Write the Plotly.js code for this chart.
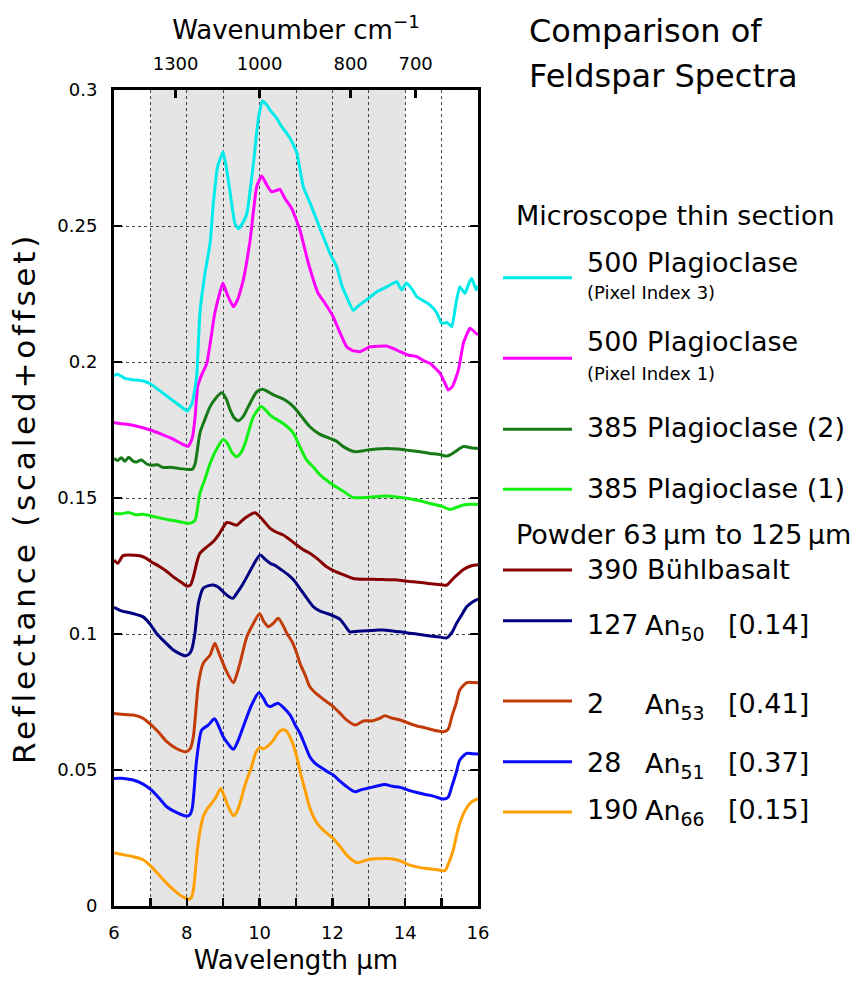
<!DOCTYPE html>
<html>
<head>
<meta charset="utf-8">
<script src="https://cdn.plot.ly/plotly-3.0.1.min.js"></script>
<style>
html,body{margin:0;padding:0;background:#fff;}
text.ytitle{letter-spacing:3.8px;}
</style>
</head>
<body>
<div id="chart" style="width:859px;height:984px;"></div>
<script>
// ---- Data ----
// 500 Plagioclase (Pixel Index 3)
const wlPlag500px3 = [6.0, 6.1, 6.3, 6.5, 6.8, 7.0, 7.3, 7.6, 7.85, 8.02, 8.15, 8.27, 8.36, 8.5, 8.64, 8.73, 8.85, 9.0, 9.14, 9.32, 9.42, 9.55, 9.65, 9.83, 9.97, 10.08, 10.2, 10.29, 10.45, 10.61, 10.84, 11.02, 11.2, 11.4, 11.57, 11.75, 11.93, 12.12, 12.25, 12.39, 12.57, 12.7, 12.85, 13.0, 13.22, 13.4, 13.58, 13.77, 13.9, 14.04, 14.2, 14.32, 14.5, 14.68, 14.87, 15.0, 15.15, 15.28, 15.4, 15.5, 15.64, 15.75, 15.83, 15.95, 16.0];
const rPlag500px3 = [0.195, 0.1955, 0.194, 0.1935, 0.193, 0.192, 0.189, 0.186, 0.1835, 0.182, 0.185, 0.1946, 0.218, 0.2326, 0.2437, 0.2585, 0.272, 0.2773, 0.267, 0.251, 0.249, 0.2515, 0.2546, 0.273, 0.290, 0.296, 0.2945, 0.2926, 0.290, 0.2865, 0.2822, 0.277, 0.2645, 0.258, 0.2522, 0.246, 0.240, 0.235, 0.2285, 0.224, 0.219, 0.2205, 0.222, 0.2235, 0.2258, 0.227, 0.2283, 0.2295, 0.2265, 0.229, 0.2265, 0.224, 0.2225, 0.221, 0.218, 0.2142, 0.2145, 0.213, 0.222, 0.2277, 0.2252, 0.229, 0.2307, 0.2265, 0.228];
// 500 Plagioclase (Pixel Index 1)
const wlPlag500px1 = [6.0, 6.3, 6.6, 7.0, 7.3, 7.6, 7.85, 8.04, 8.15, 8.22, 8.3, 8.4, 8.55, 8.77, 8.99, 9.12, 9.28, 9.4, 9.55, 9.74, 9.92, 10.06, 10.2, 10.33, 10.45, 10.56, 10.7, 10.88, 11.11, 11.34, 11.61, 11.8, 12.02, 12.2, 12.39, 12.55, 12.76, 13.03, 13.25, 13.49, 13.7, 13.86, 14.1, 14.32, 14.5, 14.68, 14.96, 15.1, 15.18, 15.3, 15.46, 15.6, 15.78, 15.95, 16.0];
const rPlag500px1 = [0.1777, 0.1772, 0.1765, 0.175, 0.1735, 0.1718, 0.170, 0.169, 0.172, 0.1787, 0.191, 0.195, 0.1995, 0.218, 0.229, 0.2245, 0.2203, 0.223, 0.230, 0.2449, 0.2645, 0.2684, 0.265, 0.2626, 0.263, 0.2635, 0.260, 0.2565, 0.2485, 0.2363, 0.2252, 0.2215, 0.2167, 0.211, 0.2056, 0.2042, 0.2038, 0.2056, 0.2058, 0.2059, 0.2048, 0.2038, 0.2025, 0.202, 0.2005, 0.1995, 0.1958, 0.192, 0.1897, 0.191, 0.197, 0.207, 0.2124, 0.2105, 0.210];
// 385 Plagioclase (2)
const wlPlag385b = [6.0, 6.1, 6.2, 6.3, 6.4, 6.5, 6.6, 6.75, 6.9, 7.03, 7.2, 7.35, 7.54, 7.8, 8.04, 8.15, 8.23, 8.36, 8.5, 8.64, 8.8, 8.96, 9.08, 9.19, 9.3, 9.42, 9.55, 9.69, 9.92, 10.08, 10.2, 10.38, 10.55, 10.7, 10.93, 11.15, 11.38, 11.65, 11.93, 12.1, 12.3, 12.62, 12.94, 13.2, 13.49, 13.8, 14.04, 14.4, 14.68, 14.95, 15.14, 15.25, 15.37, 15.6, 15.8, 16.0];
const rPlag385b = [0.1645, 0.1638, 0.1648, 0.1635, 0.165, 0.1638, 0.1632, 0.164, 0.1625, 0.162, 0.1622, 0.1612, 0.1613, 0.1608, 0.1605, 0.1606, 0.1627, 0.1738, 0.179, 0.1836, 0.1868, 0.1887, 0.1865, 0.1824, 0.1795, 0.1784, 0.180, 0.1836, 0.189, 0.190, 0.1893, 0.1879, 0.187, 0.186, 0.1836, 0.180, 0.1762, 0.1735, 0.1719, 0.171, 0.1689, 0.167, 0.1676, 0.168, 0.1682, 0.168, 0.1676, 0.167, 0.1664, 0.166, 0.1654, 0.166, 0.167, 0.1689, 0.1685, 0.1682];
// 385 Plagioclase (1)
const wlPlag385a = [6.0, 6.2, 6.4, 6.6, 6.8, 7.03, 7.3, 7.54, 7.8, 8.04, 8.15, 8.23, 8.36, 8.5, 8.64, 8.82, 9.0, 9.12, 9.23, 9.37, 9.48, 9.6, 9.83, 10.04, 10.15, 10.29, 10.45, 10.65, 10.93, 11.1, 11.29, 11.5, 11.66, 12.02, 12.3, 12.57, 12.94, 13.2, 13.49, 13.8, 14.04, 14.4, 14.68, 15.0, 15.23, 15.4, 15.6, 15.8, 16.0];
const rPlag385a = [0.1443, 0.1442, 0.1447, 0.1438, 0.144, 0.1434, 0.1425, 0.1419, 0.1413, 0.1407, 0.141, 0.1419, 0.1517, 0.157, 0.1627, 0.168, 0.1715, 0.170, 0.167, 0.1652, 0.1665, 0.170, 0.1799, 0.1836, 0.1825, 0.1805, 0.179, 0.1774, 0.1738, 0.169, 0.164, 0.161, 0.1585, 0.1548, 0.1525, 0.1502, 0.1502, 0.1505, 0.1507, 0.1503, 0.1499, 0.149, 0.148, 0.147, 0.1458, 0.1465, 0.1474, 0.1477, 0.1476];
// 390 Bühlbasalt
const wlBuehl390 = [6.0, 6.1, 6.25, 6.44, 6.8, 7.03, 7.26, 7.45, 7.63, 7.85, 8.0, 8.1, 8.18, 8.27, 8.36, 8.55, 8.73, 8.9, 9.1, 9.25, 9.37, 9.5, 9.65, 9.87, 10.01, 10.15, 10.29, 10.45, 10.65, 10.85, 11.02, 11.2, 11.38, 11.6, 11.84, 12.0, 12.21, 12.57, 12.9, 13.12, 13.4, 13.67, 13.95, 14.22, 14.5, 14.77, 15.0, 15.14, 15.32, 15.45, 15.6, 15.8, 15.95, 16.0];
const rBuehl390 = [0.1272, 0.126, 0.1288, 0.129, 0.1284, 0.1265, 0.1247, 0.123, 0.121, 0.119, 0.1176, 0.118, 0.121, 0.126, 0.1297, 0.132, 0.134, 0.137, 0.141, 0.1405, 0.140, 0.1415, 0.1431, 0.1446, 0.1431, 0.141, 0.1388, 0.1375, 0.1364, 0.1345, 0.1327, 0.131, 0.1297, 0.1275, 0.1247, 0.1235, 0.1223, 0.1204, 0.1201, 0.1201, 0.120, 0.1199, 0.1196, 0.1192, 0.1188, 0.1184, 0.1181, 0.118, 0.1204, 0.122, 0.1237, 0.125, 0.1254, 0.1255];
// 127 An50
const wlAn50 = [6.0, 6.2, 6.44, 6.8, 7.0, 7.17, 7.4, 7.63, 7.8, 7.95, 8.05, 8.13, 8.22, 8.32, 8.45, 8.6, 8.73, 8.87, 9.0, 9.13, 9.26, 9.4, 9.55, 9.7, 9.83, 10.01, 10.15, 10.29, 10.45, 10.61, 10.78, 10.93, 11.05, 11.2, 11.35, 11.48, 11.65, 11.84, 12.0, 12.21, 12.35, 12.48, 12.7, 12.94, 13.2, 13.4, 13.7, 14.04, 14.4, 14.68, 14.95, 15.14, 15.28, 15.41, 15.55, 15.69, 15.85, 16.0];
const rAn50 = [0.1098, 0.1085, 0.1078, 0.1063, 0.1035, 0.1002, 0.097, 0.0941, 0.0928, 0.092, 0.0925, 0.0941, 0.100, 0.1113, 0.1168, 0.1178, 0.118, 0.1172, 0.1155, 0.114, 0.1131, 0.1155, 0.1186, 0.1222, 0.1254, 0.129, 0.1275, 0.126, 0.125, 0.1235, 0.1218, 0.1199, 0.1178, 0.115, 0.1122, 0.110, 0.1085, 0.1076, 0.1068, 0.1054, 0.103, 0.1008, 0.101, 0.1012, 0.1014, 0.1015, 0.101, 0.1005, 0.0998, 0.0993, 0.0989, 0.0986, 0.1005, 0.1039, 0.107, 0.110, 0.1118, 0.1128];
// 2 An53
const wlAn53 = [6.0, 6.2, 6.53, 6.8, 7.03, 7.25, 7.45, 7.7, 7.98, 8.1, 8.18, 8.25, 8.32, 8.45, 8.64, 8.77, 8.88, 8.96, 9.1, 9.28, 9.37, 9.46, 9.65, 9.83, 10.0, 10.12, 10.24, 10.38, 10.51, 10.63, 10.75, 10.9, 11.02, 11.11, 11.25, 11.38, 11.52, 11.66, 11.85, 12.02, 12.2, 12.39, 12.62, 12.85, 13.12, 13.3, 13.44, 13.65, 13.86, 14.1, 14.32, 14.55, 14.77, 15.05, 15.18, 15.28, 15.4, 15.5, 15.69, 15.85, 16.0];
const rAn53 = [0.0708, 0.0705, 0.0702, 0.069, 0.0665, 0.0635, 0.0604, 0.058, 0.0567, 0.058, 0.0622, 0.072, 0.0818, 0.0892, 0.0923, 0.0966, 0.093, 0.0904, 0.086, 0.0821, 0.085, 0.0892, 0.099, 0.1039, 0.1074, 0.1045, 0.1027, 0.104, 0.1058, 0.1035, 0.1002, 0.097, 0.0929, 0.0892, 0.085, 0.0806, 0.0785, 0.077, 0.075, 0.0733, 0.071, 0.0684, 0.0665, 0.068, 0.0681, 0.069, 0.0699, 0.069, 0.0684, 0.0672, 0.0662, 0.0655, 0.0647, 0.0641, 0.065, 0.0696, 0.0745, 0.0794, 0.0821, 0.0822, 0.0821];
// 28 An51
const wlAn51 = [6.0, 6.2, 6.53, 6.8, 7.03, 7.25, 7.45, 7.7, 7.98, 8.08, 8.15, 8.27, 8.41, 8.59, 8.76, 8.88, 9.0, 9.14, 9.28, 9.4, 9.55, 9.78, 9.98, 10.1, 10.2, 10.29, 10.4, 10.51, 10.65, 10.84, 11.0, 11.11, 11.25, 11.38, 11.52, 11.66, 11.85, 12.02, 12.2, 12.39, 12.62, 12.8, 12.94, 13.2, 13.44, 13.65, 13.86, 14.1, 14.32, 14.55, 14.77, 15.05, 15.18, 15.28, 15.4, 15.5, 15.69, 15.85, 16.0];
const rAn51 = [0.0469, 0.047, 0.0463, 0.0448, 0.0426, 0.0395, 0.0365, 0.0345, 0.0331, 0.0335, 0.036, 0.0537, 0.0647, 0.0665, 0.0688, 0.066, 0.0622, 0.0595, 0.0576, 0.0605, 0.0659, 0.0739, 0.0784, 0.0765, 0.074, 0.0733, 0.074, 0.0745, 0.073, 0.0702, 0.066, 0.0635, 0.059, 0.0549, 0.0525, 0.0512, 0.0495, 0.0482, 0.046, 0.0439, 0.042, 0.0428, 0.0432, 0.044, 0.0447, 0.044, 0.0436, 0.0425, 0.0417, 0.041, 0.0404, 0.0393, 0.040, 0.0439, 0.049, 0.0537, 0.0561, 0.056, 0.0559];
// 190 An66
const wlAn66 = [6.0, 6.2, 6.53, 6.8, 7.03, 7.25, 7.45, 7.65, 7.81, 7.95, 8.04, 8.12, 8.18, 8.23, 8.29, 8.37, 8.45, 8.55, 8.68, 8.8, 8.93, 9.04, 9.14, 9.28, 9.37, 9.46, 9.6, 9.78, 9.9, 10.01, 10.1, 10.2, 10.38, 10.5, 10.61, 10.72, 10.84, 10.93, 11.02, 11.12, 11.25, 11.38, 11.48, 11.6, 11.75, 11.9, 12.02, 12.2, 12.39, 12.55, 12.67, 12.85, 13.03, 13.25, 13.49, 13.7, 13.86, 14.0, 14.13, 14.35, 14.59, 14.85, 15.09, 15.2, 15.32, 15.41, 15.5, 15.62, 15.74, 15.85, 16.0];
const rAn66 = [0.0195, 0.019, 0.0181, 0.017, 0.0144, 0.0112, 0.0083, 0.0058, 0.004, 0.003, 0.0025, 0.003, 0.0059, 0.012, 0.0206, 0.028, 0.0328, 0.0355, 0.0377, 0.040, 0.0432, 0.040, 0.0365, 0.0332, 0.0345, 0.0377, 0.0445, 0.0512, 0.0565, 0.0583, 0.0578, 0.0585, 0.061, 0.0635, 0.0647, 0.0645, 0.062, 0.059, 0.0549, 0.049, 0.0426, 0.036, 0.0328, 0.030, 0.0279, 0.0262, 0.0249, 0.022, 0.0188, 0.0168, 0.0159, 0.0165, 0.0172, 0.0174, 0.0175, 0.0172, 0.0166, 0.0158, 0.015, 0.0143, 0.0138, 0.0134, 0.013, 0.016, 0.0206, 0.026, 0.0304, 0.0345, 0.0371, 0.0385, 0.0395];

// Axis ticks
const wavenumberTicks = [1300, 1000, 800, 700];
const shadedBand = [7, 14];

// Series table
const seriesNames = ['500 Plagioclase (Pixel Index 3)', '500 Plagioclase (Pixel Index 1)', '385 Plagioclase (2)', '385 Plagioclase (1)', '390 Bühlbasalt', '127 An50', '2 An53', '28 An51', '190 An66'];
const seriesX = [wlPlag500px3, wlPlag500px1, wlPlag385b, wlPlag385a, wlBuehl390, wlAn50, wlAn53, wlAn51, wlAn66];
const seriesY = [rPlag500px3, rPlag500px1, rPlag385b, rPlag385a, rBuehl390, rAn50, rAn53, rAn51, rAn66];
const seriesColors = ['#00eaea', '#ff00ff', '#177a17', '#11f011', '#860000', '#000080', '#c23c0a', '#0a0aff', '#ffa000'];

// ---- Geometry helpers (pixels -> paper) ----
const W = 859, H = 984;
const M = {l: 114, r: 381, t: 90, b: 78};
const PW = W - M.l - M.r, PH = H - M.t - M.b;
const px = v => (v - M.l) / PW;
const py = v => (H - M.b - v) / PH;

const FONT = 'DejaVu Sans, Liberation Sans, Arial, sans-serif';

// The first series is bound to the (identical-range) top wavenumber axis so that axis is drawn.
const traces = seriesX.map((xs, i) => ({
  type: 'scatter', mode: 'lines', name: seriesNames[i],
  x: xs, y: seriesY[i], xaxis: i === 0 ? 'x2' : 'x', yaxis: 'y',
  line: {color: seriesColors[i], width: 3, shape: 'spline', smoothing: i < 2 ? 0.4 : 0.7},
  showlegend: false, hoverinfo: 'x+y+name'
}));

// Legend (custom, drawn with paper-referenced shapes/annotations)
const shapes = [{
  type: 'rect', xref: 'x', yref: 'paper', x0: shadedBand[0], x1: shadedBand[1], y0: 0, y1: 1,
  fillcolor: '#e5e5e5', line: {width: 0}, layer: 'below'
}];
const annotations = [];
function txt(t, xPix, yPix, size, extra) {
  annotations.push(Object.assign({
    text: t, xref: 'paper', yref: 'paper', x: px(xPix), y: py(yPix),
    xanchor: 'left', yanchor: 'middle', showarrow: false,
    font: {family: FONT, size: size, color: '#000'}
  }, extra || {}));
}
function sample(color, yPix) {
  shapes.push({type: 'line', xref: 'paper', yref: 'paper', x0: px(503), x1: px(572), y0: py(yPix), y1: py(yPix),
    line: {color: color, width: 3}});
}

txt('Comparison of', 527, 31, 32);
txt('Feldspar Spectra', 527, 76, 32);
txt('Microscope thin section', 514, 215, 27);

const legendRows = [
  {label: '500 Plagioclase', sub: '(Pixel Index 3)', ly: 277.7, ty: 262, sy: 292},
  {label: '500 Plagioclase', sub: '(Pixel Index 1)', ly: 358.3, ty: 341, sy: 373},
  {label: '385 Plagioclase (2)', ly: 429.3, ty: 427},
  {label: '385 Plagioclase (1)', ly: 489.3, ty: 488},
];
legendRows.forEach((r, i) => {
  sample(seriesColors[i], r.ly);
  txt(r.label, 585, r.ty, 27);
  if (r.sub) txt(r.sub, 585, r.sy, 18);
});

txt('Powder 63\u2009µm to 125\u2009µm', 514, 534, 27);

sample(seriesColors[4], 570);
txt('390 Bühlbasalt', 585, 569, 27);

const powderRows = [
  {num: '127', an: '50', frac: '[0.14]', ly: 620.7, ty: 624, idx: 5},
  {num: '2', an: '53', frac: '[0.41]', ly: 701, ty: 703, idx: 6},
  {num: '28', an: '51', frac: '[0.37]', ly: 761.7, ty: 762, idx: 7},
  {num: '190', an: '66', frac: '[0.15]', ly: 812, ty: 809, idx: 8},
];
powderRows.forEach(r => {
  sample(seriesColors[r.idx], r.ly);
  txt(r.num, 585, r.ty, 27);
  txt('An<sub>' + r.an + '</sub>', 643, r.ty + 3, 27);
  txt(r.frac, 726, r.ty, 27);
});

const axisCommon = {
  showline: true, linecolor: '#000', linewidth: 3,
  ticks: 'inside', ticklen: 8, tickwidth: 2.5, tickcolor: '#000',
  zeroline: false, fixedrange: true,
  tickfont: {family: FONT, size: 18, color: '#000'}
};
const gridStyle = {showgrid: true, gridcolor: '#444', gridwidth: 1, griddash: 'dot'};

const layout = {
  width: W, height: H,
  margin: M,
  paper_bgcolor: '#fff', plot_bgcolor: '#fff',
  font: {family: FONT, color: '#000'},
  showlegend: false,
  xaxis: Object.assign({}, axisCommon, gridStyle, {
    range: [6, 16], tickmode: 'linear', tick0: 6, dtick: 2,
    minor: Object.assign({tickmode: 'linear', tick0: 6, dtick: 1, ticks: 'inside', ticklen: 8, tickwidth: 2.5, tickcolor: '#000'}, gridStyle),
    mirror: false, ticklabelstandoff: 8,
    title: {text: 'Wavelength µm', font: {family: FONT, size: 26, color: '#000'}, standoff: 10}
  }),
  xaxis2: Object.assign({}, axisCommon, {
    overlaying: 'x', side: 'top', anchor: 'y',
    range: [6, 16], tickmode: 'array',
    tickvals: wavenumberTicks.map(k => 1e4 / k), ticktext: wavenumberTicks.map(String),
    showgrid: false, ticklabelstandoff: 10,
    title: {text: 'Wavenumber cm<sup>−1</sup>', font: {family: FONT, size: 26, color: '#000'}, standoff: 6}
  }),
  yaxis: Object.assign({}, axisCommon, gridStyle, {
    range: [0, 0.3], tickmode: 'linear', tick0: 0, dtick: 0.05,
    mirror: 'ticks', ticklabelstandoff: 10,
    title: {text: 'Reflectance (scaled+offset)', font: {family: FONT, size: 31, color: '#000'}, standoff: 13}
  }),
  shapes: shapes,
  annotations: annotations
};

Plotly.newPlot('chart', traces, layout, {displayModeBar: false, staticPlot: true});
</script>
</body>
</html>
